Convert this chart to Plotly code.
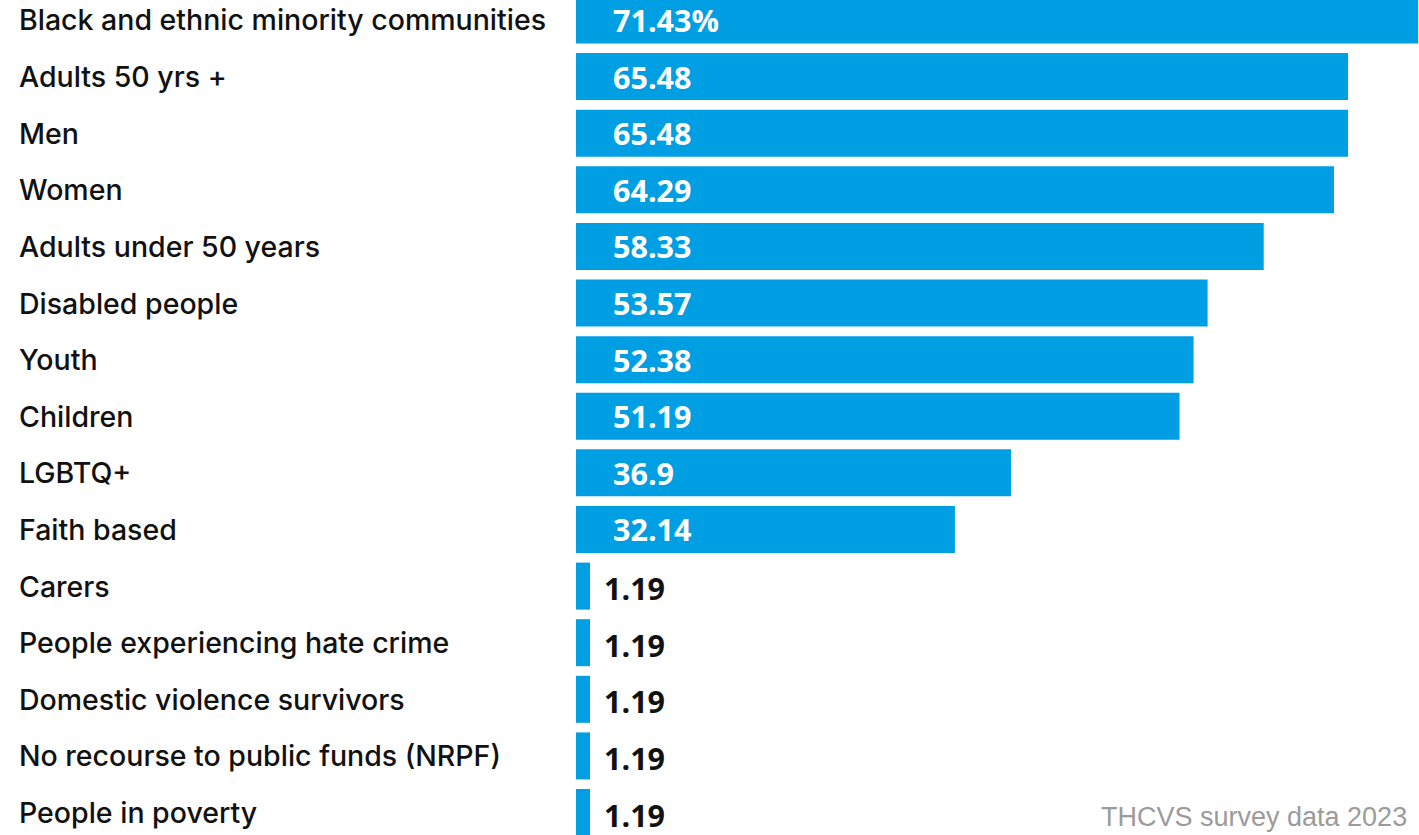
import plotly.graph_objects as go

categories = [
    "Black and ethnic minority communities", "Adults 50 yrs +", "Men", "Women",
    "Adults under 50 years", "Disabled people", "Youth", "Children", "LGBTQ+",
    "Faith based", "Carers", "People experiencing hate crime",
    "Domestic violence survivors", "No recourse to public funds (NRPF)",
    "People in poverty",
]
values = [71.43, 65.48, 65.48, 64.29, 58.33, 53.57, 52.38, 51.19, 36.9,
          32.14, 1.19, 1.19, 1.19, 1.19, 1.19]
value_labels = ["71.43%", "65.48", "65.48", "64.29", "58.33", "53.57", "52.38",
                "51.19", "36.9", "32.14", "1.19", "1.19", "1.19", "1.19", "1.19"]
source_note = "THCVS survey data 2023"

W, H = 1419, 835
BAR = "#009fe3"

fig = go.Figure(go.Bar(
    x=values, y=categories, orientation="h",
    marker=dict(color=BAR, line=dict(width=0)),
    hoverinfo="skip",
))

annotations = []
for cat in categories:
    annotations.append(dict(
        x=19 / W, xref="paper", y=cat, yref="y", text=cat, showarrow=False,
        xanchor="left", yanchor="middle", xshift=-2,
        font=dict(family="Inter", size=28.5, color="#111111", weight=500),
    ))
for cat, v, lab in zip(categories, values, value_labels):
    inside = v > 10
    annotations.append(dict(
        x=0 if inside else v, xref="x", y=cat, yref="y", text=lab,
        showarrow=False, xanchor="left", yanchor="middle",
        xshift=35 if inside else 12, yshift=0 if inside else -2,
        font=dict(family="Open Sans", size=30.5,
                  color="#ffffff" if inside else "#111111", weight="bold"),
    ))
annotations.append(dict(
    x=1409 / W, xref="paper", y=0, yref="paper", text=source_note,
    showarrow=False, xanchor="right", yanchor="bottom", yshift=1,
    font=dict(family="Liberation Sans, Arial", size=27, color="#9b9b9b"),
))

fig.update_layout(
    width=W, height=H,
    margin=dict(l=0, r=0, t=0, b=0),
    paper_bgcolor="white", plot_bgcolor="white",
    showlegend=False, bargap=0.17,
    xaxis=dict(domain=[576 / W, 1], range=[0, 71.5], visible=False, fixedrange=True),
    yaxis=dict(range=[14.397, -0.353], showticklabels=False, showgrid=False,
               zeroline=False, showline=False, ticks="", fixedrange=True),
    annotations=annotations,
)

fig.write_html(
    "out.html",
    config={"displayModeBar": False},
    post_script="document.body.style.margin='0';document.body.style.overflow='hidden';",
)
